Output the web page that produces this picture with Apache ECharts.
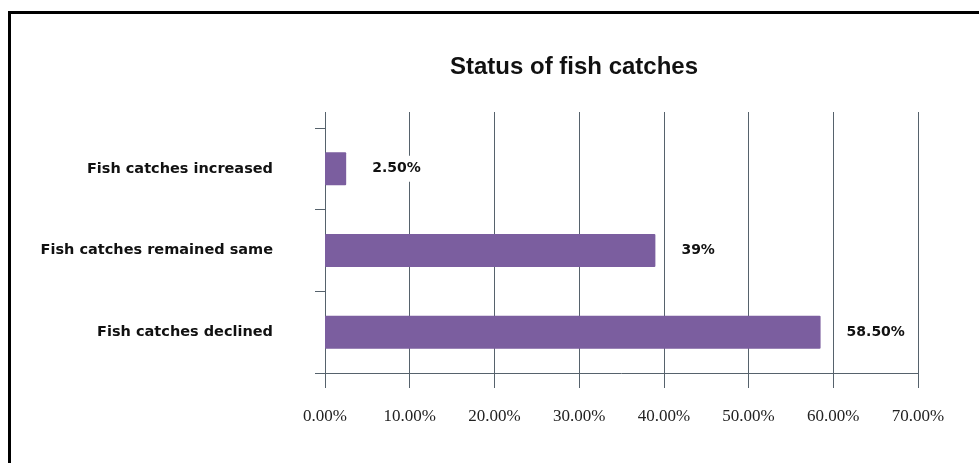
<!DOCTYPE html>
<html>
<head>
<meta charset="utf-8">
<script src="https://cdn.jsdelivr.net/npm/echarts@6/dist/echarts.min.js"></script>
<style>
html,body{margin:0;padding:0;background:#fff;}
#wrap{position:relative;width:979px;height:463px;overflow:hidden;}
#frame{position:absolute;left:8px;top:11px;width:990px;height:470px;border-left:3px solid #000;border-top:3px solid #000;box-sizing:border-box;pointer-events:none;}
#chart{position:absolute;left:0;top:0;width:979px;height:463px;}
</style>
</head>
<body>
<div id="wrap"><div id="chart"></div><div id="frame"></div></div>
<script>
const categories = ['Fish catches increased', 'Fish catches remained same', 'Fish catches declined'];
const values = [2.5, 39, 58.5];
const valueLabels = ['2.50%', '39%', '58.50%'];
const xTicks = [0, 10, 20, 30, 40, 50, 60, 70];

const chart = echarts.init(document.getElementById('chart'));
const lineColor = '#56626c';
chart.setOption({
  animation: false,
  backgroundColor: '#fff',
  title: {
    text: 'Status of fish catches',
    left: 569, top: 50, textAlign: 'center',
    textStyle: {fontFamily: 'Liberation Sans, Arial', fontWeight: 'bold', fontSize: 24, color: '#111'}
  },
  grid: {left: 325, right: 61, top: 128, bottom: 90, containLabel: false},
  xAxis: [{
    type: 'value', min: xTicks[0], max: xTicks[xTicks.length - 1], interval: 10,
    axisLine: {show: true, lineStyle: {color: lineColor, width: 1}},
    axisTick: {show: true, length: 15, lineStyle: {color: lineColor}},
    splitLine: {show: true, lineStyle: {color: lineColor, width: 1}},
    axisLabel: {
      margin: 35, color: '#222', fontFamily: 'Liberation Serif, Times New Roman', fontSize: 17,
      formatter: v => v.toFixed(2) + '%'
    }
  }, {
    type: 'value', position: 'top', min: xTicks[0], max: xTicks[xTicks.length - 1], interval: 10,
    axisLine: {show: false},
    axisTick: {show: true, length: 16, lineStyle: {color: lineColor}},
    splitLine: {show: false},
    axisLabel: {show: false}
  }],
  yAxis: {
    type: 'category', inverse: true, data: categories,
    axisLine: {show: true, lineStyle: {color: lineColor}},
    axisTick: {show: true, length: 10, lineStyle: {color: lineColor}},
    axisLabel: {
      margin: 52, color: '#111', fontFamily: 'DejaVu Sans', fontWeight: 'bold', fontSize: 14.5
    }
  },
  series: [{
    type: 'bar', data: values, barWidth: 33, xAxisIndex: 0,
    itemStyle: {color: '#7b5e9f', borderRadius: 1},
    label: {
      show: true, position: 'right', distance: 22,
      formatter: p => valueLabels[p.dataIndex],
      color: '#111', fontFamily: 'DejaVu Sans', fontWeight: 'bold', fontSize: 14,
      backgroundColor: '#fff', padding: [6, 4]
    }
  }]
});
</script>
</body>
</html>
